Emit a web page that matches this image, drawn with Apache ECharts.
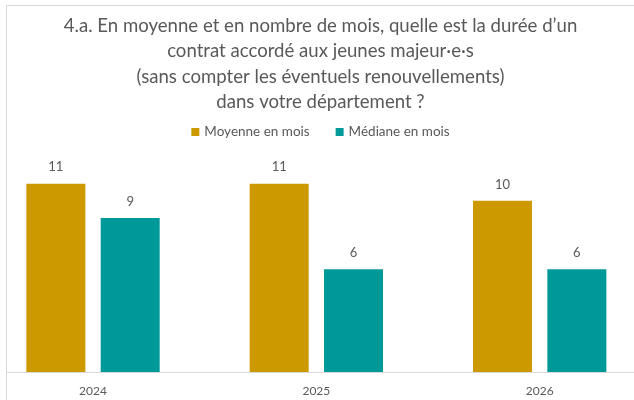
<!DOCTYPE html>
<html>
<head>
<meta charset="utf-8">
<script src="https://cdn.jsdelivr.net/npm/echarts@6/dist/echarts.min.js"></script>
<style>
  html, body { margin: 0; padding: 0; background: #fff; overflow: hidden; }
  #main {
    position: absolute;
    left: 6px;
    top: 5px;
    width: 627px;
    height: 394px;
    border-left: 1px solid #d9d9d9;
    border-top: 1px solid #d9d9d9;
  }
</style>
</head>
<body>
<div id="main"></div>
<script>
// données
var annees = ['2024', '2025', '2026'];
var moyenne = [11, 11, 10];
var mediane = [9, 6, 6];
var nomsSeries = ['Moyenne en mois', 'Médiane en mois'];

var myChart = echarts.init(document.getElementById('main'));
var police = 'Lato, "Open Sans", sans-serif';
var option = {
  backgroundColor: '#fff',
  title: {
    text: '4.a. En moyenne et en nombre de mois, quelle est la durée d\u2019un\ncontrat accordé aux jeunes majeur·e·s\n(sans compter les éventuels renouvellements)\ndans votre département ?',
    left: 'center',
    top: 2,
    padding: [5, 16, 5, 5],
    textStyle: {
      fontFamily: police,
      fontSize: 18.6,
      fontWeight: 'normal',
      color: '#595959',
      lineHeight: 25.5
    }
  },
  legend: {
    data: nomsSeries,
    top: 114,
    left: 'center',
    itemWidth: 8,
    itemHeight: 8,
    itemGap: 26,
    icon: 'rect',
    textStyle: { fontFamily: police, fontSize: 13.5, color: '#595959' }
  },
  grid: { left: -25.65, width: 670, top: 160.6, bottom: 28, outerBoundsMode: 'none' },
  xAxis: {
    type: 'category',
    data: annees,
    axisLine: { lineStyle: { color: '#d9d9d9', width: 1 } },
    axisTick: { show: false },
    axisLabel: { fontFamily: police, fontSize: 12, color: '#595959', margin: 13 }
  },
  yAxis: {
    type: 'value',
    min: 0,
    max: 12,
    show: false,
    splitLine: { show: false }
  },
  series: [
    {
      name: nomsSeries[0],
      type: 'bar',
      data: moyenne,
      barWidth: 59,
      barGap: '26%',
      itemStyle: { color: '#cc9900' },
      label: { show: true, position: 'top', distance: 10, fontFamily: police, fontSize: 13, color: '#595959' }
    },
    {
      name: nomsSeries[1],
      type: 'bar',
      data: mediane,
      barWidth: 59,
      itemStyle: { color: '#009999' },
      label: { show: true, position: 'top', distance: 10, fontFamily: police, fontSize: 13, color: '#595959' }
    }
  ]
};
myChart.setOption(option);
</script>
</body>
</html>
